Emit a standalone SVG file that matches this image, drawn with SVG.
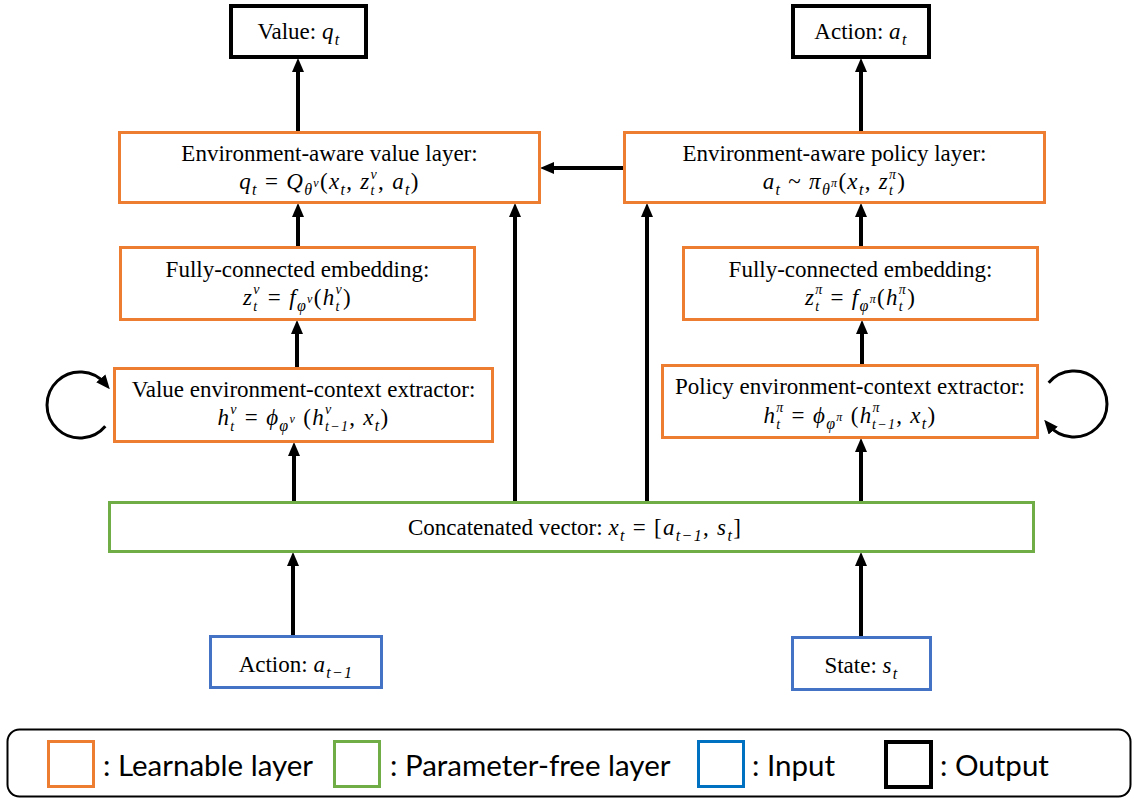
<svg xmlns="http://www.w3.org/2000/svg" width="1135" height="799" viewBox="0 0 1135 799">
<style>
.t{font-family:"Liberation Serif",serif;font-size:23px;fill:#000;text-anchor:middle}
.m{letter-spacing:1.3px}
.i{font-style:italic}
.s{font-size:16px}
.s2{font-size:14px}
.ss{font-size:12px}
.lg{font-family:Lato,"Liberation Sans",sans-serif;font-size:29.5px;fill:#000}
.or{fill:#fff;stroke:#ED7D31;stroke-width:3}
.gr{fill:#fff;stroke:#70AD47;stroke-width:3}
.bl{fill:#fff;stroke:#4472C4;stroke-width:3}
.bk{fill:#fff;stroke:#000;stroke-width:4}
.ar{fill:none;stroke:#000;stroke-width:4;marker-end:url(#ah)}
.lp{fill:none;stroke:#000;stroke-width:3;marker-end:url(#ah)}
</style>
<defs>
<marker id="ah" markerUnits="userSpaceOnUse" markerWidth="14" markerHeight="14" viewBox="0 0 14 14" refX="7" refY="7" orient="auto"><path d="M0,1 L14,7 L0,13 z" fill="#000"/></marker>
</defs>
<rect width="1135" height="799" fill="#fff"/>

<g id="connectors">
<path class="ar" d="M298,132 V65"/>
<path class="ar" d="M861,132 V65"/>
<path class="ar" d="M298,247 V210"/>
<path class="ar" d="M861,247 V210"/>
<path class="ar" d="M297,368 V327"/>
<path class="ar" d="M862,365 V327"/>
<path class="ar" d="M294,502 V449"/>
<path class="ar" d="M515,502 V210"/>
<path class="ar" d="M647,502 V210"/>
<path class="ar" d="M861,502 V445"/>
<path class="ar" d="M293,636 V559"/>
<path class="ar" d="M861,637 V559"/>
<path class="ar" d="M624,168 H547"/>
<path class="lp" d="M105.3,426.2 A33,33 0 1 1 105.3,383.8"/>
<path class="lp" d="M1048.7,382.8 A33,33 0 1 1 1048.7,425.2"/>
</g>

<g id="value-out">
<rect class="bk" x="231" y="6" width="135" height="51"/>
<text class="t" x="299" y="39">Value: <tspan class="i m">q</tspan><tspan class="s i m" dy="6">t</tspan></text>
</g>
<g id="action-out">
<rect class="bk" x="793" y="6" width="136" height="51"/>
<text class="t" x="861" y="39">Action: <tspan class="i m">a</tspan><tspan class="s i m" dy="6">t</tspan></text>
</g>

<g id="value-layer">
<rect class="or" x="119.5" y="132.5" width="420" height="70"/>
<text class="t" x="329.5" y="161">Environment-aware value layer:</text>
<text class="t m" x="329.5" y="189"><tspan class="i">q</tspan><tspan class="s i" dy="6">t</tspan><tspan dy="-6"> = </tspan><tspan class="i">Q</tspan><tspan class="s i" dy="6">θ</tspan><tspan class="ss i" dy="-8">v</tspan><tspan dy="2">(</tspan><tspan class="i">x</tspan><tspan class="s i" dy="6">t</tspan><tspan dy="-6">, </tspan><tspan class="i">z</tspan><tspan class="s2 i" dy="6">t</tspan><tspan class="s2 i" dx="-5.2" dy="-16">v</tspan><tspan dy="10">, </tspan><tspan class="i">a</tspan><tspan class="s i" dy="6">t</tspan><tspan dy="-6">)</tspan></text>
</g>

<g id="policy-layer">
<rect class="or" x="624.5" y="132.5" width="420" height="70"/>
<text class="t" x="834.5" y="161">Environment-aware policy layer:</text>
<text class="t m" x="834.5" y="189"><tspan class="i">a</tspan><tspan class="s i" dy="6">t</tspan><tspan dy="-6"> ~ </tspan><tspan class="i">π</tspan><tspan class="s i" dy="6">θ</tspan><tspan class="ss i" dy="-8">π</tspan><tspan dy="2">(</tspan><tspan class="i">x</tspan><tspan class="s i" dy="6">t</tspan><tspan dy="-6">, </tspan><tspan class="i">z</tspan><tspan class="s2 i" dy="6">t</tspan><tspan class="s2 i" dx="-5.2" dy="-16">π</tspan><tspan dy="10">)</tspan></text>
</g>

<g id="fc-value">
<rect class="or" x="120.5" y="247.5" width="354" height="72"/>
<text class="t" x="297.5" y="277">Fully-connected embedding:</text>
<text class="t m" x="297.5" y="305"><tspan class="i">z</tspan><tspan class="s2 i" dy="6">t</tspan><tspan class="s2 i" dx="-5.2" dy="-17">v</tspan><tspan dy="11"> = </tspan><tspan class="i">f</tspan><tspan class="s i" dy="6">φ</tspan><tspan class="ss i" dy="-8">v</tspan><tspan dy="2">(</tspan><tspan class="i">h</tspan><tspan class="s2 i" dy="6">t</tspan><tspan class="s2 i" dx="-5.2" dy="-17">v</tspan><tspan dy="11">)</tspan></text>
</g>

<g id="fc-policy">
<rect class="or" x="683.5" y="247.5" width="354" height="72"/>
<text class="t" x="860.5" y="277">Fully-connected embedding:</text>
<text class="t m" x="860.5" y="305"><tspan class="i">z</tspan><tspan class="s2 i" dy="6">t</tspan><tspan class="s2 i" dx="-5.2" dy="-17">π</tspan><tspan dy="11"> = </tspan><tspan class="i">f</tspan><tspan class="s i" dy="6">φ</tspan><tspan class="ss i" dy="-8">π</tspan><tspan dy="2">(</tspan><tspan class="i">h</tspan><tspan class="s2 i" dy="6">t</tspan><tspan class="s2 i" dx="-5.2" dy="-17">π</tspan><tspan dy="11">)</tspan></text>
</g>

<g id="value-extractor">
<rect class="or" x="114.5" y="368.5" width="378" height="73"/>
<text class="t" x="303.5" y="397">Value environment-context extractor:</text>
<text class="t m" x="303.5" y="425"><tspan class="i">h</tspan><tspan class="s2 i" dy="6">t</tspan><tspan class="s2 i" dx="-5.2" dy="-17">v</tspan><tspan dy="11"> = </tspan><tspan class="i">ϕ</tspan><tspan class="s i" dy="6">φ</tspan><tspan class="ss i" dy="-8">v</tspan><tspan dy="2"> (</tspan><tspan class="i">h</tspan><tspan class="s2 i" dy="-11">v</tspan><tspan class="s2 i" dx="-7.5" dy="17">t−1</tspan><tspan dy="-6">, </tspan><tspan class="i">x</tspan><tspan class="s i" dy="6">t</tspan><tspan dy="-6">)</tspan></text>
</g>

<g id="policy-extractor">
<rect class="or" x="662.5" y="365.5" width="375" height="72"/>
<text class="t" x="850" y="394">Policy environment-context extractor:</text>
<text class="t m" x="850" y="423"><tspan class="i">h</tspan><tspan class="s2 i" dy="6">t</tspan><tspan class="s2 i" dx="-5.2" dy="-17">π</tspan><tspan dy="11"> = </tspan><tspan class="i">ϕ</tspan><tspan class="s i" dy="6">φ</tspan><tspan class="ss i" dy="-8">π</tspan><tspan dy="2"> (</tspan><tspan class="i">h</tspan><tspan class="s2 i" dy="-11">π</tspan><tspan class="s2 i" dx="-8.8" dy="17">t−1</tspan><tspan dy="-6">, </tspan><tspan class="i">x</tspan><tspan class="s i" dy="6">t</tspan><tspan dy="-6">)</tspan></text>
</g>

<g id="concat">
<rect class="gr" x="109.5" y="502.5" width="924" height="49"/>
<text class="t" x="575" y="535">Concatenated vector: <tspan class="i m">x</tspan><tspan class="s i m" dy="6">t</tspan><tspan class="m" dy="-6"> = [</tspan><tspan class="i m">a</tspan><tspan class="s i m" dy="6">t−1</tspan><tspan class="m" dy="-6">, </tspan><tspan class="i m">s</tspan><tspan class="s i m" dy="6">t</tspan><tspan class="m" dy="-6">]</tspan></text>
</g>

<g id="action-in">
<rect class="bl" x="210.5" y="636.5" width="171" height="51"/>
<text class="t" x="296" y="672">Action: <tspan class="i m">a</tspan><tspan class="s i m" dy="6">t−1</tspan></text>
</g>
<g id="state-in">
<rect class="bl" x="792.5" y="637.5" width="138" height="52"/>
<text class="t" x="861.5" y="673">State: <tspan class="i m">s</tspan><tspan class="s i m" dy="6">t</tspan></text>
</g>

<g id="legend">
<rect x="7.5" y="729.5" width="1123" height="67" rx="12" fill="#fff" stroke="#000" stroke-width="2"/>
<rect x="48.5" y="741.5" width="45" height="45" fill="none" stroke="#ED7D31" stroke-width="3"/>
<text class="lg" x="103" y="776">: Learnable layer</text>
<rect x="334.5" y="741.5" width="45" height="45" fill="none" stroke="#70AD47" stroke-width="3"/>
<text class="lg" x="390" y="776">: Parameter-free layer</text>
<rect x="698.5" y="741.5" width="45" height="45" fill="none" stroke="#0070C0" stroke-width="3"/>
<text class="lg" x="752" y="776">: Input</text>
<rect x="886" y="742" width="45" height="45" fill="none" stroke="#000" stroke-width="4"/>
<text class="lg" x="940" y="776">: Output</text>
</g>
</svg>
